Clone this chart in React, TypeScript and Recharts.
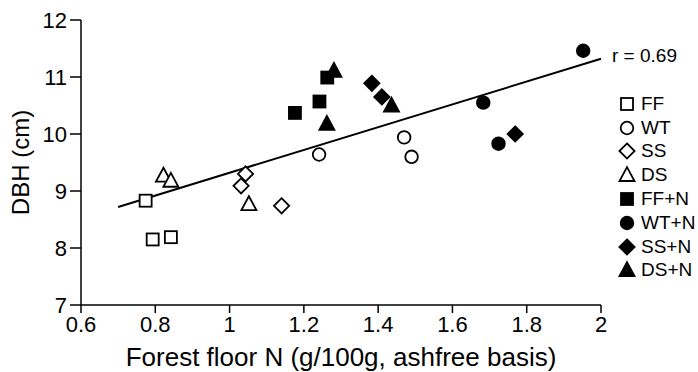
import React from 'react';
import {
  ScatterChart,
  Scatter,
  XAxis,
  YAxis,
  ReferenceLine,
  Label,
} from 'recharts';

type Pt = { x: number; y: number };

const ff: Pt[] = [
  { x: 0.774, y: 8.83 },
  { x: 0.793, y: 8.15 },
  { x: 0.842, y: 8.19 },
];
const wt: Pt[] = [
  { x: 1.241, y: 9.64 },
  { x: 1.47, y: 9.94 },
  { x: 1.49, y: 9.6 },
];
const ss: Pt[] = [
  { x: 1.043, y: 9.3 },
  { x: 1.031, y: 9.09 },
  { x: 1.14, y: 8.74 },
];
const ds: Pt[] = [
  { x: 0.822, y: 9.27 },
  { x: 0.842, y: 9.18 },
  { x: 1.052, y: 8.77 },
];
const ffN: Pt[] = [
  { x: 1.176, y: 10.37 },
  { x: 1.242, y: 10.57 },
  { x: 1.263, y: 10.99 },
];
const wtN: Pt[] = [
  { x: 1.952, y: 11.46 },
  { x: 1.683, y: 10.55 },
  { x: 1.724, y: 9.83 },
];
const ssN: Pt[] = [
  { x: 1.383, y: 10.89 },
  { x: 1.41, y: 10.65 },
  { x: 1.769, y: 10.0 },
];
const dsN: Pt[] = [
  { x: 1.281, y: 11.11 },
  { x: 1.262, y: 10.18 },
  { x: 1.436, y: 10.5 },
];

// fitted regression line, r = 0.69
const fitLine: Pt[] = [
  { x: 0.7, y: 8.72 },
  { x: 2.0, y: 11.32 },
];

const xTicks = [0.6, 0.8, 1, 1.2, 1.4, 1.6, 1.8, 2];
const yTicks = [7, 8, 9, 10, 11, 12];

type Kind = 'square' | 'circle' | 'diamond' | 'triangle';

const seriesList: { name: string; data: Pt[]; kind: Kind; filled: boolean }[] = [
  { name: 'FF', data: ff, kind: 'square', filled: false },
  { name: 'WT', data: wt, kind: 'circle', filled: false },
  { name: 'SS', data: ss, kind: 'diamond', filled: false },
  { name: 'DS', data: ds, kind: 'triangle', filled: false },
  { name: 'FF+N', data: ffN, kind: 'square', filled: true },
  { name: 'WT+N', data: wtN, kind: 'circle', filled: true },
  { name: 'SS+N', data: ssN, kind: 'diamond', filled: true },
  { name: 'DS+N', data: dsN, kind: 'triangle', filled: true },
];

function Marker({ cx, cy, kind, filled }: { cx: number; cy: number; kind: Kind; filled: boolean }) {
  const fill = filled ? '#000' : '#fff';
  const sw = 1.8;
  if (kind === 'square') {
    const h = 6;
    return <rect x={cx - h} y={cy - h} width={h * 2} height={h * 2} fill={fill} stroke="#000" strokeWidth={sw} />;
  }
  if (kind === 'circle') {
    return <circle cx={cx} cy={cy} r={6.3} fill={fill} stroke="#000" strokeWidth={sw} />;
  }
  if (kind === 'diamond') {
    const h = 7.6;
    return (
      <polygon
        points={`${cx},${cy - h} ${cx + h},${cy} ${cx},${cy + h} ${cx - h},${cy}`}
        fill={fill}
        stroke="#000"
        strokeWidth={sw}
      />
    );
  }
  const h = 7.5;
  return (
    <polygon
      points={`${cx},${cy - h * 1.05} ${cx + h},${cy + h * 0.8} ${cx - h},${cy + h * 0.8}`}
      fill={fill}
      stroke="#000"
      strokeWidth={sw}
    />
  );
}

const font = 'Liberation Sans, Arial, sans-serif';

export default function App() {
  return (
    <div style={{ position: 'absolute', left: 0, top: 0, width: 698, height: 372, background: '#fff' }}>
      <ScatterChart width={698} height={372} margin={{ top: 20, right: 97, bottom: 0, left: 0 }}>
        <XAxis
          type="number"
          dataKey="x"
          domain={[0.6, 2]}
          ticks={xTicks}
          allowDecimals
          stroke="#000"
          strokeWidth={1.5}
          tickSize={8}
          fontSize={22}
          fontFamily={font}
          tick={{ fill: '#000', fontSize: 22, fontFamily: font }}
          tickMargin={3}
          height={67}
        >
          <Label
            value="Forest floor N (g/100g, ashfree basis)"
            position="insideBottom"
            offset={6}
            style={{ fill: '#000', fontSize: 26, fontFamily: font }}
          />
        </XAxis>
        <YAxis
          type="number"
          dataKey="y"
          domain={[7, 12]}
          ticks={yTicks}
          stroke="#000"
          strokeWidth={1.5}
          tickSize={11}
          fontSize={22}
          fontFamily={font}
          tick={{ fill: '#000', fontSize: 22, fontFamily: font }}
          tickMargin={3}
          width={81}
        >
          <Label
            value="DBH (cm)"
            angle={-90}
            position="insideLeft"
            offset={20}
            style={{ textAnchor: 'middle', fill: '#000', fontSize: 24, fontFamily: font }}
          />
        </YAxis>
        <ReferenceLine segment={fitLine} stroke="#000" strokeWidth={2} ifOverflow="visible" />
        {seriesList.map((s) => (
          <Scatter
            key={s.name}
            name={s.name}
            data={s.data}
            isAnimationActive={false}
            shape={(p: any) => <Marker cx={p.cx} cy={p.cy} kind={s.kind} filled={s.filled} />}
          />
        ))}
      </ScatterChart>
      <div
        style={{
          position: 'absolute',
          left: 612,
          top: 45,
          fontFamily: font,
          fontSize: 19,
          color: '#000',
          whiteSpace: 'nowrap',
        }}
      >
        r = 0.69
      </div>
      <div
        style={{
          position: 'absolute',
          left: 617,
          top: 92,
          fontFamily: font,
          fontSize: 19,
          color: '#000',
        }}
      >
        {seriesList.map((s) => (
          <div key={s.name} style={{ display: 'flex', alignItems: 'center', height: 23.8, whiteSpace: 'nowrap' }}>
            <svg width={20} height={20} style={{ marginRight: 4 }}>
              <Marker cx={10} cy={10} kind={s.kind} filled={s.filled} />
            </svg>
            <span>{s.name}</span>
          </div>
        ))}
      </div>
    </div>
  );
}
